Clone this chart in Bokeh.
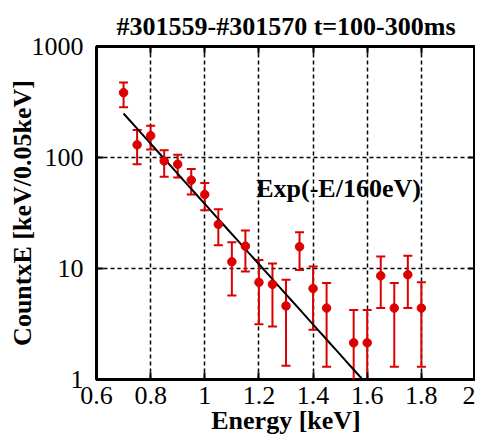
import numpy as np
from bokeh.plotting import figure
from bokeh.models import (ColumnDataSource, Whisker, TeeHead, FixedTicker, LinearAxis,
                          LogAxis, Title)
from bokeh.core.properties import value
from bokeh.embed import file_html
from bokeh.resources import INLINE

# ---- data ----
energy = [0.70, 0.75, 0.80, 0.85, 0.90, 0.95, 1.00, 1.05, 1.10, 1.15, 1.20, 1.25,
          1.30, 1.35, 1.40, 1.45, 1.55, 1.60, 1.65, 1.70, 1.75, 1.80]
counts = [384, 130, 157, 93, 87, 62.5, 46.4, 25.0, 11.5, 15.9, 7.5, 7.2,
          4.6, 15.7, 6.6, 4.4, 2.14, 2.14, 8.6, 4.4, 8.8, 4.4]
err_up = [473, 177, 193, 116, 106, 78.7, 58.9, 34.2, 17.2, 22.0, 11.9, 11.1,
          7.9, 21.2, 10.4, 7.4, 4.22, 4.22, 12.8, 7.4, 13.0, 7.5]
err_lo = [284, 87, 118, 67, 66, 46.5, 33.5, 16.2, 5.7, 9.4, 3.15, 3.0,
          1.33, 9.7, 2.8, 1.3, 0.06, 0.06, 4.4, 1.3, 4.4, 1.3]

fit_amplitude = 19780.0     # counts scale of exponential fit
fit_temperature = 0.160     # keV
fit_e_start, fit_e_end = 0.70, 1.60

x_ticks = [0.6, 0.8, 1.0, 1.2, 1.4, 1.6, 1.8, 2.0]
x_tick_labels = ["0.6", "0.8", "1", "1.2", "1.4", "1.6", "1.8", "2"]
y_ticks = [1, 10, 100, 1000]
y_tick_labels = ["1", "10", "100", "1000"]

title_text = "#301559-#301570 t=100-300ms"
fit_label = "Exp(-E/160eV)"
fit_label_pos = (1.19, 53.0)

RED = "#dd0000"
SERIF = "Liberation Serif"

p = figure(width=475, height=437, x_range=(0.6, 2.0), y_range=(1, 1000),
           y_axis_type="log", output_backend="svg", toolbar_location=None,
           min_border_left=96, min_border_right=0, min_border_top=46,
           min_border_bottom=56)
p.background_fill_color = "white"
p.border_fill_color = "white"
p.outline_line_color = "black"
p.outline_line_width = 3

p.title = Title(text=title_text, align="center", text_font=SERIF,
                text_font_size="26px", text_font_style="bold", standoff=12,
                text_color="black")

bottom_ax = p.below[0]
left_ax = p.left[0]

# grid
for g in (p.xgrid, p.ygrid):
    g.grid_line_color = "black"
    g.grid_line_dash = "4 3"
    g.grid_line_width = 1.5
p.xgrid.ticker = FixedTicker(ticks=x_ticks)
p.ygrid.ticker = FixedTicker(ticks=y_ticks)

def style_axis(ax, ticks, labels, show_labels=True):
    ax.ticker = FixedTicker(ticks=ticks, minor_ticks=[])
    ax.axis_line_color = None
    ax.major_tick_in = 7
    ax.major_tick_out = 0
    ax.major_tick_line_width = 2
    ax.major_tick_line_color = "black"
    ax.minor_tick_line_color = None
    ax.major_label_text_font = SERIF
    ax.major_label_text_color = "black"
    if show_labels:
        ax.major_label_text_font_size = "26px"
        ax.major_label_overrides = dict(zip(ticks, labels))
    else:
        ax.major_label_text_font_size = "1px"
        ax.major_label_overrides = {t: "" for t in ticks}
        ax.major_label_standoff = 0

style_axis(bottom_ax, x_ticks, x_tick_labels)
style_axis(left_ax, y_ticks, y_tick_labels)
bottom_ax.major_label_standoff = 7
left_ax.major_label_standoff = 13

top_ax = LinearAxis()
style_axis(top_ax, x_ticks, x_tick_labels, show_labels=False)
p.add_layout(top_ax, "above")
right_ax = LogAxis()
style_axis(right_ax, y_ticks, y_tick_labels, show_labels=False)
p.add_layout(right_ax, "right")

bottom_ax.axis_label = "Energy [keV]"
left_ax.axis_label = "CountxE [keV/0.05keV]"
for ax in (bottom_ax, left_ax):
    ax.axis_label_text_font = SERIF
    ax.axis_label_text_font_size = "26px"
    ax.axis_label_text_font_style = "bold"
    ax.axis_label_text_color = "black"
bottom_ax.axis_label_standoff = -1
left_ax.axis_label_standoff = -8

# fit line
fit_e = np.linspace(fit_e_start, fit_e_end, 40)
fit_y = fit_amplitude * np.exp(-fit_e / fit_temperature)
p.line(fit_e, fit_y, line_color="black", line_width=2)

# data with error bars
src = ColumnDataSource(dict(e=energy, c=counts, up=err_up, lo=err_lo))
w = Whisker(source=src, base="e", upper="up", lower="lo", dimension="height",
            line_color=RED, line_width=2,
            upper_head=TeeHead(size=9, line_color=RED, line_width=2),
            lower_head=TeeHead(size=9, line_color=RED, line_width=2))
p.add_layout(w)
p.scatter("e", "c", source=src, size=8.5, fill_color=RED, line_color=RED)

p.text(x=[fit_label_pos[0]], y=[fit_label_pos[1]], text=[fit_label],
       text_font=value(SERIF), text_font_style="bold", text_font_size="26px",
       text_baseline="alphabetic", text_align="left", text_color="black")

open("out.html", "w").write(file_html(p, INLINE))
